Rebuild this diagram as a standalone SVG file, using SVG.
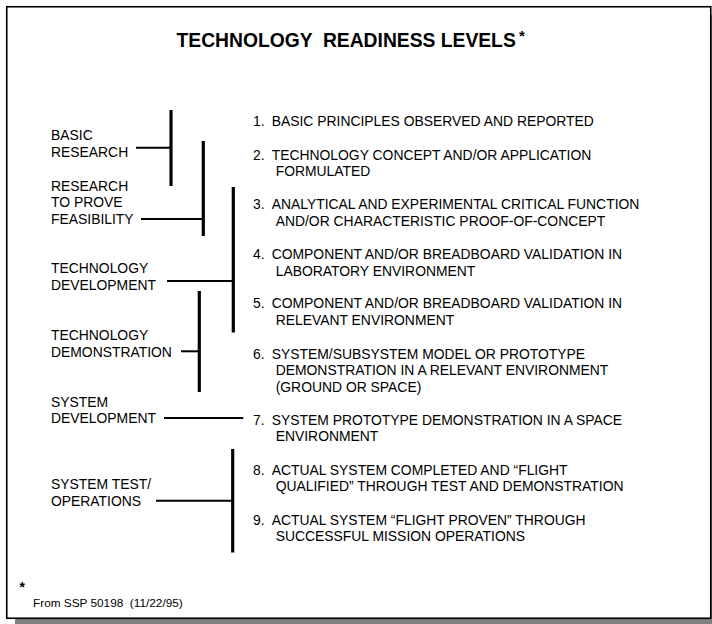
<svg xmlns="http://www.w3.org/2000/svg" width="712" height="624" viewBox="0 0 712 624">
<style>
text{font-family:"Liberation Sans",Arial,sans-serif;fill:#000;white-space:pre}
.t{font-size:13.9px}
.ttl{font-size:19.3px;font-weight:bold}
.fn{font-size:11.8px}
.bar{stroke:#000;stroke-width:3.2;fill:none}
.tick{stroke:#000;stroke-width:2;fill:none}
</style>
<rect x="15" y="15" width="700" height="612" fill="#808080"/>
<rect x="6.75" y="6.75" width="704" height="611.5" fill="#fff" stroke="#000" stroke-width="1.6"/>
<g id="title">
<text class="ttl" x="176.5" y="46.5" xml:space="preserve">TECHNOLOGY  READINESS LEVELS</text>
<text x="519" y="41" style="font-size:15px;font-weight:bold">*</text>
</g>
<g id="connectors">
<line class="bar" x1="171" y1="110" x2="171" y2="186"/>
<line class="tick" x1="136" y1="147.7" x2="171" y2="147.7"/>
<line class="bar" x1="203.3" y1="141" x2="203.3" y2="236"/>
<line class="tick" x1="141" y1="219" x2="203.3" y2="219"/>
<line class="bar" x1="233.3" y1="187" x2="233.3" y2="332.5"/>
<line class="tick" x1="167" y1="281" x2="233.3" y2="281"/>
<line class="bar" x1="199.3" y1="291" x2="199.3" y2="392"/>
<line class="tick" x1="181" y1="351.3" x2="199.3" y2="351.3"/>
<line class="tick" x1="164" y1="418" x2="243.3" y2="418"/>
<line class="bar" x1="232.7" y1="449" x2="232.7" y2="552.5"/>
<line class="tick" x1="156" y1="500.7" x2="232.7" y2="500.7"/>
</g>
<g id="phase-basic-research">
<text class="t" x="51" y="140">BASIC</text>
<text class="t" x="51" y="157">RESEARCH</text>
</g>
<g id="phase-feasibility">
<text class="t" x="51" y="190.5">RESEARCH</text>
<text class="t" x="51" y="207">TO PROVE</text>
<text class="t" x="51" y="223.5">FEASIBILITY</text>
</g>
<g id="phase-tech-development">
<text class="t" x="51" y="273">TECHNOLOGY</text>
<text class="t" x="51" y="290">DEVELOPMENT</text>
</g>
<g id="phase-tech-demonstration">
<text class="t" x="51" y="340">TECHNOLOGY</text>
<text class="t" x="51" y="356.5">DEMONSTRATION</text>
</g>
<g id="phase-system-development">
<text class="t" x="51" y="406.5">SYSTEM</text>
<text class="t" x="51" y="423">DEVELOPMENT</text>
</g>
<g id="phase-system-test">
<text class="t" x="51" y="489">SYSTEM TEST/</text>
<text class="t" x="51" y="505.5">OPERATIONS</text>
</g>
<g id="trl1">
<text class="t" x="253" y="125.5">1.</text>
<text class="t" x="271.7" y="125.5">BASIC PRINCIPLES OBSERVED AND REPORTED</text>
</g>
<g id="trl2">
<text class="t" x="253" y="160">2.</text>
<text class="t" x="271.7" y="160">TECHNOLOGY CONCEPT AND/OR APPLICATION</text>
<text class="t" x="275.7" y="176">FORMULATED</text>
</g>
<g id="trl3">
<text class="t" x="253" y="209">3.</text>
<text class="t" x="271.7" y="209">ANALYTICAL AND EXPERIMENTAL CRITICAL FUNCTION</text>
<text class="t" x="275.7" y="225.5">AND/OR CHARACTERISTIC PROOF-OF-CONCEPT</text>
</g>
<g id="trl4">
<text class="t" x="253" y="259">4.</text>
<text class="t" x="271.7" y="259">COMPONENT AND/OR BREADBOARD VALIDATION IN</text>
<text class="t" x="275.7" y="275.5">LABORATORY ENVIRONMENT</text>
</g>
<g id="trl5">
<text class="t" x="253" y="308">5.</text>
<text class="t" x="271.7" y="308">COMPONENT AND/OR BREADBOARD VALIDATION IN</text>
<text class="t" x="275.7" y="325">RELEVANT ENVIRONMENT</text>
</g>
<g id="trl6">
<text class="t" x="253" y="359">6.</text>
<text class="t" x="271.7" y="359">SYSTEM/SUBSYSTEM MODEL OR PROTOTYPE</text>
<text class="t" x="275.7" y="375">DEMONSTRATION IN A RELEVANT ENVIRONMENT</text>
<text class="t" x="275.7" y="391.5">(GROUND OR SPACE)</text>
</g>
<g id="trl7">
<text class="t" x="253" y="425">7.</text>
<text class="t" x="271.7" y="425">SYSTEM PROTOTYPE DEMONSTRATION IN A SPACE</text>
<text class="t" x="275.7" y="441">ENVIRONMENT</text>
</g>
<g id="trl8">
<text class="t" x="253" y="474.5">8.</text>
<text class="t" x="271.7" y="474.5">ACTUAL SYSTEM COMPLETED AND “FLIGHT</text>
<text class="t" x="275.7" y="490.5">QUALIFIED” THROUGH TEST AND DEMONSTRATION</text>
</g>
<g id="trl9">
<text class="t" x="253" y="524.5">9.</text>
<text class="t" x="271.7" y="524.5">ACTUAL SYSTEM “FLIGHT PROVEN” THROUGH</text>
<text class="t" x="275.7" y="540.5">SUCCESSFUL MISSION OPERATIONS</text>
</g>
<g id="footnote">
<text x="19.5" y="592" style="font-size:14px;font-weight:bold">*</text>
<text class="fn" x="33" y="606.5" xml:space="preserve">From SSP 50198  (11/22/95)</text>
</g>
</svg>
